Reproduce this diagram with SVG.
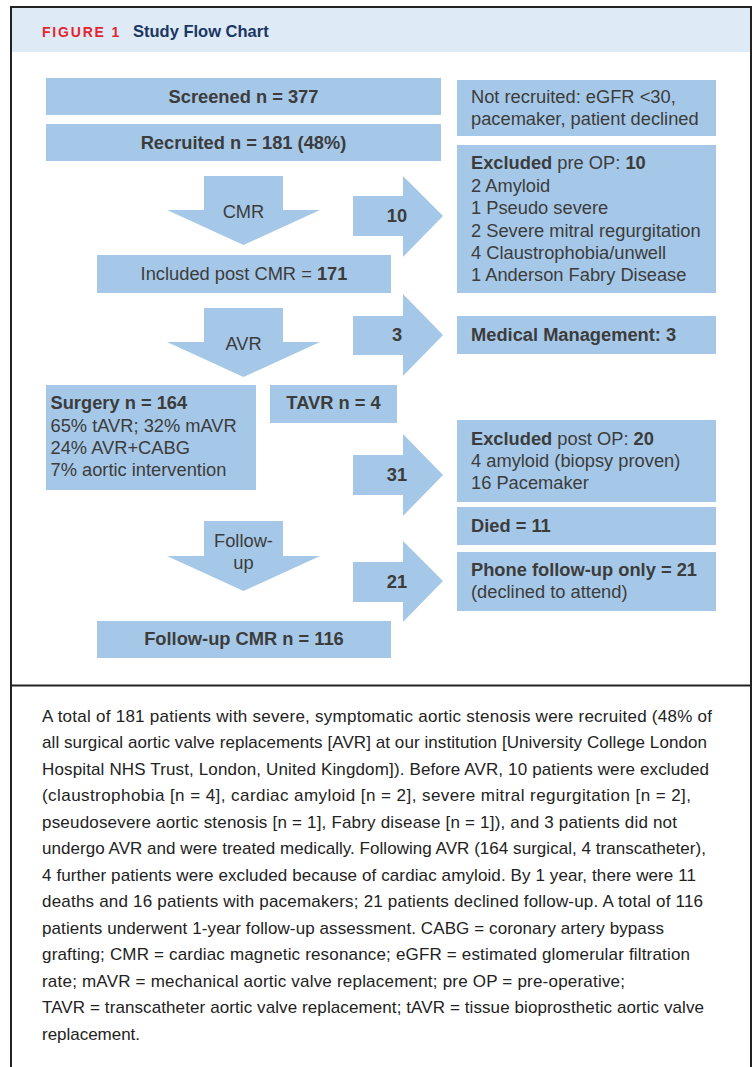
<svg xmlns="http://www.w3.org/2000/svg" width="756" height="1067" viewBox="0 0 756 1067">
<style>
.box{fill:#a6c8e8}
.arr{fill:#a6c8e8}
.t{font-family:"Liberation Sans",Arial,sans-serif;font-size:18.3px;fill:#3c3c3c}
.b{font-weight:bold}
.c{text-anchor:middle}
.cap{font-family:"Liberation Sans",Arial,sans-serif;font-size:17px;fill:#222}
.frame{stroke:#222;stroke-width:2;fill:none}
</style>
<rect x="0" y="0" width="756" height="1067" fill="#fff"/>
<rect x="11" y="7" width="740" height="45" fill="#deeaf6"/>
<path class="frame" d="M11 1067 V7 H751 V1067 M11 685.5 H751"/>
<text x="42" y="37" font-family="'Liberation Sans',Arial,sans-serif" font-size="14" font-weight="bold" fill="#e3262f" letter-spacing="1.8">FIGURE 1</text>
<text x="133" y="37" font-family="'Liberation Sans',Arial,sans-serif" font-size="16.5" font-weight="bold" fill="#1b3663">Study Flow Chart</text>

<g id="connectors">
<polygon class="arr" points="204,176 283,176 283,210 320,210 243.5,245 167,210 204,210"/>
<polygon class="arr" points="204,308 283,308 283,342 320,342 243.5,377 167,342 204,342"/>
<polygon class="arr" points="204,521 283,521 283,556 320,556 243.5,591 167,556 204,556"/>
<polygon class="arr" points="353,196 403,196 403,176 443,216 403,257 403,236 353,236"/>
<polygon class="arr" points="353,316 403,316 403,294 443,335 403,376 403,355 353,355"/>
<polygon class="arr" points="353,455 403,455 403,434 443,475 403,516 403,495 353,495"/>
<polygon class="arr" points="353,562 403,562 403,541 443,581 403,622 403,602 353,602"/>
<text class="t c" x="243.5" y="218">CMR</text>
<text class="t c" x="243.5" y="350">AVR</text>
<text class="t c" x="243.5" y="547">Follow-</text>
<text class="t c" x="243.5" y="569">up</text>
<text class="t b c" x="397" y="222">10</text>
<text class="t b c" x="397" y="341">3</text>
<text class="t b c" x="397" y="481">31</text>
<text class="t b c" x="397" y="588">21</text>
</g>

<g id="screened">
<rect class="box" x="46" y="78" width="395" height="37"/>
<text class="t b c" x="243.5" y="103">Screened n = 377</text>
</g>
<g id="recruited">
<rect class="box" x="46" y="124" width="395" height="37"/>
<text class="t b c" x="243.5" y="149">Recruited n = 181 (48%)</text>
</g>
<g id="not-recruited">
<rect class="box" x="457" y="80" width="259" height="56"/>
<text class="t" x="471" y="103">Not recruited: eGFR &lt;30,</text>
<text class="t" x="471" y="125">pacemaker, patient declined</text>
</g>
<g id="excluded-pre">
<rect class="box" x="457" y="145" width="259" height="148"/>
<text class="t" x="471" y="169"><tspan class="b">Excluded</tspan> pre OP: <tspan class="b">10</tspan></text>
<text class="t" x="471" y="191.5">2 Amyloid</text>
<text class="t" x="471" y="214">1 Pseudo severe</text>
<text class="t" x="471" y="236.5">2 Severe mitral regurgitation</text>
<text class="t" x="471" y="259">4 Claustrophobia/unwell</text>
<text class="t" x="471" y="281">1 Anderson Fabry Disease</text>
</g>
<g id="included">
<rect class="box" x="97" y="255" width="294" height="38"/>
<text class="t c" x="244" y="280">Included post CMR = <tspan class="b">171</tspan></text>
</g>
<g id="medical">
<rect class="box" x="457" y="316" width="259" height="38"/>
<text class="t b" x="471" y="341">Medical Management: 3</text>
</g>
<g id="surgery">
<rect class="box" x="46" y="385" width="210" height="105"/>
<text class="t b" x="50.5" y="409">Surgery n = 164</text>
<text class="t" x="50.5" y="431.5">65% tAVR; 32% mAVR</text>
<text class="t" x="50.5" y="453.5">24% AVR+CABG</text>
<text class="t" x="50.5" y="476">7% aortic intervention</text>
</g>
<g id="tavr">
<rect class="box" x="270" y="385" width="127" height="38"/>
<text class="t b c" x="333.5" y="409">TAVR n = 4</text>
</g>
<g id="excluded-post">
<rect class="box" x="457" y="420" width="259" height="82"/>
<text class="t" x="471" y="445"><tspan class="b">Excluded</tspan> post OP: <tspan class="b">20</tspan></text>
<text class="t" x="471" y="467">4 amyloid (biopsy proven)</text>
<text class="t" x="471" y="489">16 Pacemaker</text>
</g>
<g id="died">
<rect class="box" x="457" y="507" width="259" height="38"/>
<text class="t b" x="471" y="532">Died = 11</text>
</g>
<g id="phone">
<rect class="box" x="457" y="552" width="259" height="59"/>
<text class="t b" x="471" y="576">Phone follow-up only = 21</text>
<text class="t" x="471" y="598">(declined to attend)</text>
</g>
<g id="followup-cmr">
<rect class="box" x="97" y="621" width="294" height="37"/>
<text class="t b c" x="244" y="645">Follow-up CMR n = 116</text>
</g>

<g id="caption">
<text class="cap" x="42" y="721.5" textLength="670" lengthAdjust="spacing">A total of 181 patients with severe, symptomatic aortic stenosis were recruited (48% of</text>
<text class="cap" x="42" y="748" textLength="665" lengthAdjust="spacing">all surgical aortic valve replacements [AVR] at our institution [University College London</text>
<text class="cap" x="42" y="774.5" textLength="667" lengthAdjust="spacing">Hospital NHS Trust, London, United Kingdom]). Before AVR, 10 patients were excluded</text>
<text class="cap" x="42" y="801" textLength="649" lengthAdjust="spacing">(claustrophobia [n = 4], cardiac amyloid [n = 2], severe mitral regurgitation [n = 2],</text>
<text class="cap" x="42" y="827.5" textLength="635" lengthAdjust="spacing">pseudosevere aortic stenosis [n = 1], Fabry disease [n = 1]), and 3 patients did not</text>
<text class="cap" x="42" y="854" textLength="664" lengthAdjust="spacing">undergo AVR and were treated medically. Following AVR (164 surgical, 4 transcatheter),</text>
<text class="cap" x="42" y="880.5" textLength="654" lengthAdjust="spacing">4 further patients were excluded because of cardiac amyloid. By 1 year, there were 11</text>
<text class="cap" x="42" y="907" textLength="661" lengthAdjust="spacing">deaths and 16 patients with pacemakers; 21 patients declined follow-up. A total of 116</text>
<text class="cap" x="42" y="933.5" textLength="622" lengthAdjust="spacing">patients underwent 1-year follow-up assessment. CABG = coronary artery bypass</text>
<text class="cap" x="42" y="960" textLength="648" lengthAdjust="spacing">grafting; CMR = cardiac magnetic resonance; eGFR = estimated glomerular filtration</text>
<text class="cap" x="42" y="986.5" textLength="583" lengthAdjust="spacing">rate; mAVR = mechanical aortic valve replacement; pre OP = pre-operative;</text>
<text class="cap" x="42" y="1013" textLength="662" lengthAdjust="spacing">TAVR = transcatheter aortic valve replacement; tAVR = tissue bioprosthetic aortic valve</text>
<text class="cap" x="42" y="1039.5" textLength="98" lengthAdjust="spacing">replacement.</text>
</g>
</svg>
